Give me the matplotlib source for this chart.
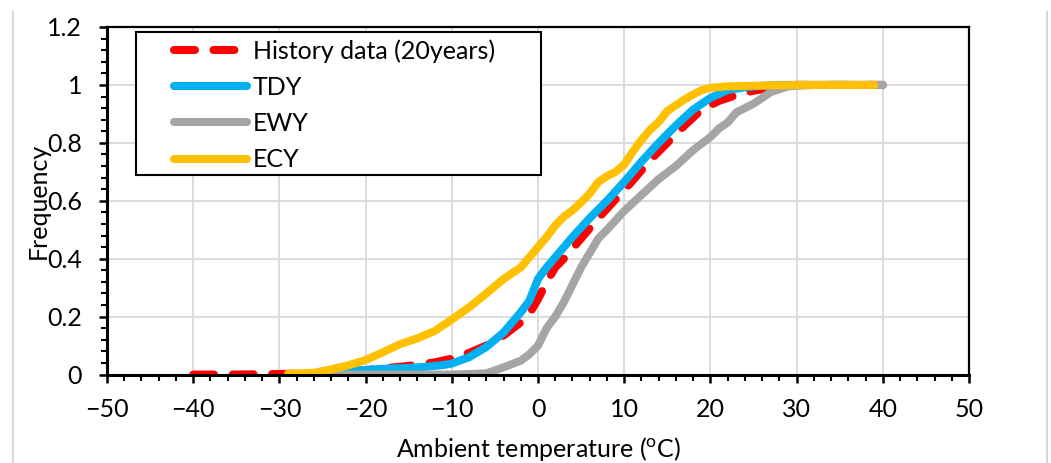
import matplotlib
matplotlib.use("Agg")
import matplotlib.pyplot as plt
from matplotlib.lines import Line2D
from matplotlib.patches import Rectangle
from matplotlib.ticker import MultipleLocator

plt.rcParams["font.family"] = ["Lato", "DejaVu Sans"]
plt.rcParams["mathtext.fontset"] = "custom"
plt.rcParams["mathtext.rm"] = "Lato"

# Cumulative frequency of ambient temperature
hist_t = [-40, -35, -30, -25, -20, -15, -12, -10, -8, -6, -4, -2, -1, 0, 1, 2, 3, 5, 7, 9,
          11, 13, 15, 17, 19, 21, 23, 25, 27, 30, 35, 40]
hist_f = [0.0, 0.0, 0.002, 0.005, 0.015, 0.03, 0.042, 0.055, 0.075, 0.1, 0.135, 0.18, 0.21,
          0.26, 0.32, 0.37, 0.40, 0.47, 0.54, 0.605, 0.67, 0.74, 0.80, 0.86, 0.915, 0.945,
          0.965, 0.98, 0.99, 1.0, 1.0, 1.0]

tdy_t = [-28, -25, -22, -18, -15, -13, -11, -10, -8, -6, -4, -2, -1, 0, 1, 2, 3, 4, 6, 8,
         10, 12, 14, 16, 18, 20, 22, 24, 26, 28, 30, 35, 39]
tdy_f = [0.0, 0.003, 0.012, 0.02, 0.023, 0.027, 0.033, 0.038, 0.06, 0.095, 0.145, 0.215,
         0.255, 0.33, 0.37, 0.405, 0.44, 0.475, 0.54, 0.60, 0.665, 0.735, 0.80, 0.86, 0.915,
         0.955, 0.982, 0.992, 0.997, 1.0, 1.0, 1.0, 1.0]

ewy_t = [-28, -20, -10, -6, -4, -2, -1, 0, 1, 2, 3, 4, 5, 6, 7, 8, 10, 12, 14, 16, 18, 20,
         21, 22, 23, 25, 27, 29, 32, 35, 40]
ewy_f = [0.0, 0.0, 0.0, 0.004, 0.025, 0.048, 0.07, 0.10, 0.16, 0.20, 0.25, 0.31, 0.37, 0.42,
         0.47, 0.50, 0.565, 0.62, 0.675, 0.72, 0.775, 0.82, 0.85, 0.87, 0.905, 0.935, 0.975,
         0.995, 1.0, 1.0, 1.0]

ecy_t = [-29, -26, -24, -22, -20, -18, -16, -14, -12, -10, -8, -6, -4, -2, -1, 0, 1, 2, 3, 4,
         5, 6, 7, 8, 9, 10, 11, 12, 13, 14, 15, 16, 17, 18, 19, 20, 22, 25, 30, 35, 39]
ecy_f = [0.003, 0.006, 0.018, 0.032, 0.05, 0.077, 0.105, 0.125, 0.15, 0.19, 0.232, 0.28,
         0.33, 0.37, 0.405, 0.44, 0.475, 0.515, 0.545, 0.567, 0.595, 0.625, 0.665, 0.685,
         0.70, 0.725, 0.77, 0.81, 0.845, 0.872, 0.91, 0.93, 0.95, 0.967, 0.982, 0.99, 0.995,
         0.997, 1.0, 1.0, 1.0]

labels = ["History data (20years)", "TDY", "EWY", "ECY"]
colors = ["#FF0000", "#00B0F0", "#A5A5A5", "#FFC000"]
lw = 5.8
fs = 18

fig = plt.figure(figsize=(10.51, 4.63), dpi=100)
ax = fig.add_axes([0.1018, 0.191, 0.8202, 0.7507])

ax.plot(hist_t, hist_f, color=colors[0], lw=lw, dashes=(2.6, 2.3),
        dash_capstyle="round", solid_capstyle="round", label=labels[0])
ax.plot(tdy_t, tdy_f, color=colors[1], lw=lw, solid_capstyle="round", label=labels[1])
ax.plot(ewy_t, ewy_f, color=colors[2], lw=lw, solid_capstyle="round", label=labels[2])
ax.plot(ecy_t, ecy_f, color=colors[3], lw=lw, solid_capstyle="round", label=labels[3])

ax.set_xlim(-50, 50)
ax.set_ylim(0, 1.2)
ax.xaxis.set_minor_locator(MultipleLocator(2))
ax.yaxis.set_minor_locator(MultipleLocator(0.04))
ax.set_yticks([0, 0.2, 0.4, 0.6, 0.8, 1.0, 1.2])
ax.set_yticklabels(["0", "0.2", "0.4", "0.6", "0.8", "1", "1.2"])
ax.set_xticks(range(-50, 51, 10))
ax.set_xticklabels(["\u221250", "\u221240", "\u221230", "\u221220", "\u221210", "0", "10",
                    "20", "30", "40", "50"])

ax.grid(True, which="major", color="#D9D9D9", lw=1.3)
ax.set_axisbelow(True)
ax.tick_params(axis="both", which="major", direction="out", length=6, width=1.8,
               labelsize=fs, color="black")
ax.tick_params(axis="both", which="minor", direction="out", length=4, width=1.5)
ax.tick_params(axis="y", which="major", pad=12)
ax.tick_params(axis="x", which="major", pad=11)
for side in ["left", "bottom"]:
    ax.spines[side].set_linewidth(2.2)
for side in ["top", "right"]:
    ax.spines[side].set_linewidth(1.6)

ax.set_xlabel("Ambient temperature ($\\mathregular{^o}$C)", fontsize=fs, labelpad=10)
ax.set_ylabel("Frequency", fontsize=fs)
ax.yaxis.set_label_coords(-0.066, 0.5)

# legend box drawn separately so the handles sit inset like the original
box = Rectangle((136 / 1051, 1 - 175 / 463), 405 / 1051, 143 / 463, transform=fig.transFigure,
                facecolor="white", edgecolor="black", lw=1.5, zorder=4.5)
ax.add_patch(box)
leg = ax.legend(loc="upper left", bbox_to_anchor=(174 / 1051, 1 - 39 / 463),
                bbox_transform=fig.transFigure, fontsize=fs, frameon=False,
                handlelength=2.9, handletextpad=0.25, labelspacing=0.53, borderpad=0,
                borderaxespad=0)
leg.set_zorder(5)

# light outer frame lines of the original figure box
fig.add_artist(Line2D([13 / 1051, 13 / 1051], [0, 1 - 12 / 463], color="#D9D9D9", lw=1.5))
fig.add_artist(Line2D([1047 / 1051, 1047 / 1051], [0, 1 - 12 / 463], color="#D9D9D9", lw=1.5))

fig.savefig("out.png", dpi=100)
